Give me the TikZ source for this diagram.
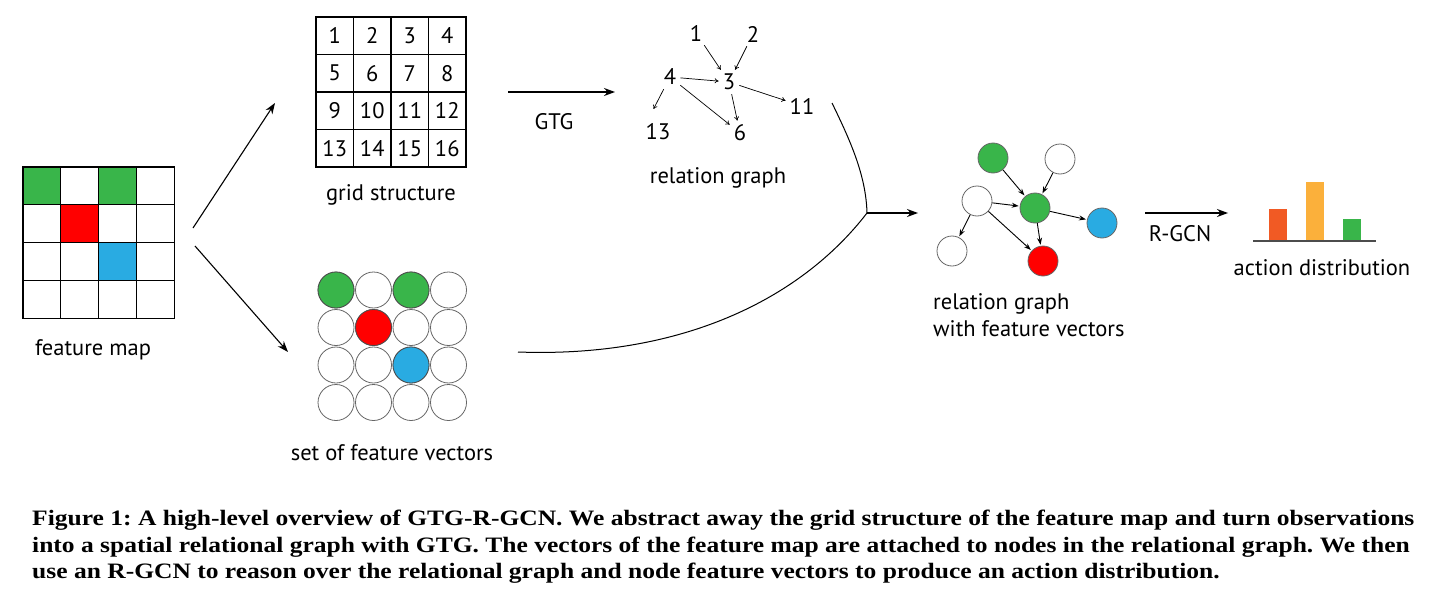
\documentclass[tikz,border=0pt]{standalone}
\usepackage{fontspec}
\setmainfont{PT Sans}
\newfontfamily\capfont[FakeStretch=1.16]{Liberation Serif}
\usetikzlibrary{arrows.meta,positioning}

\definecolor{fgreen}{HTML}{39B54A}
\definecolor{fred}{HTML}{FF0000}
\definecolor{fblue}{HTML}{29ABE2}
\definecolor{borange}{HTML}{F15A24}
\definecolor{byellow}{HTML}{FBB03B}

\begin{document}
\frenchspacing
\begin{tikzpicture}[x=1pt,y=-1pt,font=\fontsize{22.5}{27}\selectfont,
lbl/.style={inner sep=0pt,anchor=base},
num/.style={inner sep=4pt},
cell/.style={draw,line width=1.3pt,minimum size=37.5pt,inner sep=0pt},
vec/.style={circle,draw=black!60,line width=0.8pt,minimum size=36pt,inner sep=0pt},
feat/.style={circle,draw=black!60,line width=0.8pt,minimum size=30pt,inner sep=0pt},
arr/.style={-{Stealth[length=11pt,width=8pt]},line width=1.1pt},
rel/.style={-{To[length=4pt,width=5pt]},line width=0.7pt},
farr/.style={-{Stealth[length=7pt,width=5pt]},line width=0.9pt,shorten >=1pt}]
\useasboundingbox (0,0) rectangle (1430,602);

% feature map
\foreach \c/\r/\col in {0/0/fgreen,2/0/fgreen,1/1/fred,2/2/fblue}
  \fill[\col] (23+37.8*\c,167+37.8*\r) rectangle ++(37.8,37.8);
\foreach \r in {0,...,3}
  \foreach \c in {0,...,3}
    \draw[line width=1.3pt] (23+37.8*\c,167+37.8*\r) rectangle ++(37.8,37.8);
\node[lbl] (fmap) at (93,355) {feature map};

% grid structure
\foreach \r in {0,...,3}
  \foreach \c in {0,...,3} {
    \pgfmathtruncatemacro\n{4*\r+\c+1}
    \node[cell] (g\n) at (334.75+37.5*\c,35.75+37.5*\r) {\n};
  }
\node[lbl] (glbl) at (391,200) {grid structure};

% set of feature vectors
\foreach \r in {0,...,3}
  \foreach \c in {0,...,3}
    \node[vec] (v\r\c) at (336+37.5*\c,290+37.5*\r) {};
\node[vec,fill=fgreen,draw=black!70] at (v00) {};
\node[vec,fill=fgreen,draw=black!70] at (v02) {};
\node[vec,fill=fred,draw=black!70] at (v11) {};
\node[vec,fill=fblue,draw=black!70] at (v22) {};
\node[lbl] (vlbl) at (392,460) {set of feature vectors};

\coordinate (up0) at (193,228);
\coordinate (up1) at (275,103);
\coordinate (dn0) at (195,246);
\coordinate (dn1) at (288,352);
\draw[arr] (up0) -- (up1);
\draw[arr] (dn0) -- (dn1);

% GTG
\coordinate (gtg0) at (508,92);
\coordinate (gtg1) at (615,92);
\draw[arr] (gtg0) -- (gtg1);
\node[lbl] (gtg) at (554,129) {GTG};

% relation graph
\node[num] (n1) at (696,33) {1};
\node[num] (n2) at (753,34) {2};
\node[num] (n4) at (670,77) {4};
\node[num] (n3) at (729,82) {3};
\node[num] (n11) at (802,106) {11};
\node[num] (n13) at (658,132) {13};
\node[num] (n6) at (740,133) {6};
\draw[rel] (n1) -- (n3);
\draw[rel] (n2) -- (n3);
\draw[rel] (n4) -- (n3);
\draw[rel,shorten >=12pt] (n4) -- ([xshift=-10pt]n13.north);
\draw[rel] (n4) -- (n6);
\draw[rel] (n3) -- (n6);
\draw[rel] (n3) -- (n11);
\node[lbl] (rlbl) at (718,183) {relation graph};

% merge
\coordinate (top) at (832,103);
\coordinate (bot) at (518,352);
\coordinate (join) at (867,213);
\coordinate (join1) at (918,213);
\draw[line width=1pt] (top) .. controls (850,140) and (866,175) .. (join);
\draw[line width=1pt] (bot) .. controls (680,358) and (800,300) .. (join);
\draw[arr] (join) -- (join1);

% relation graph with feature vectors
\node[feat,fill=fgreen] (fa) at (993,158) {};
\node[feat] (fb) at (1060,159) {};
\node[feat] (fc) at (977,201) {};
\node[feat,fill=fgreen] (fd) at (1035,208) {};
\node[feat,fill=fblue] (fe) at (1102,223) {};
\node[feat] (ff) at (952,251) {};
\node[feat,fill=fred] (fg) at (1043,261) {};
\draw[farr] (fa) -- (fd);
\draw[farr] (fb) -- (fd);
\draw[farr] (fc) -- (fd);
\draw[farr] (fc) -- (ff);
\draw[farr] (fc) -- (fg);
\draw[farr] (fd) -- (fg);
\draw[farr] (fd) -- (fe);
\node[inner sep=0pt,anchor=north west,align=left] (flbl) at (933,293) {relation graph\\with feature vectors};

% R-GCN
\coordinate (rg0) at (1145,213);
\coordinate (rg1) at (1228,213);
\draw[arr] (rg0) -- (rg1);
\node[lbl] (rgcn) at (1180,241) {R-GCN};

% action distribution
\fill[borange] (1269,209) rectangle (1287,241);
\fill[byellow] (1306,182) rectangle (1324,241);
\fill[fgreen] (1343,219) rectangle (1361,241);
\draw[black!70,line width=1.3pt] (1253,241) -- (1376,241);
\node[lbl] (albl) at (1322,275) {action distribution};

% caption
\node[inner sep=0pt,anchor=north west,align=left,
  font=\capfont\bfseries\fontsize{22}{26.5}\selectfont] (cap) at (32,510)
  {Figure 1: A high-level overview of GTG-R-GCN. We abstract away the grid structure of the feature map and turn observations\\
   into a spatial relational graph with GTG. The vectors of the feature map are attached to nodes in the relational graph. We then\\
   use an R-GCN to reason over the relational graph and node feature vectors to produce an action distribution.};
\end{tikzpicture}
\end{document}
